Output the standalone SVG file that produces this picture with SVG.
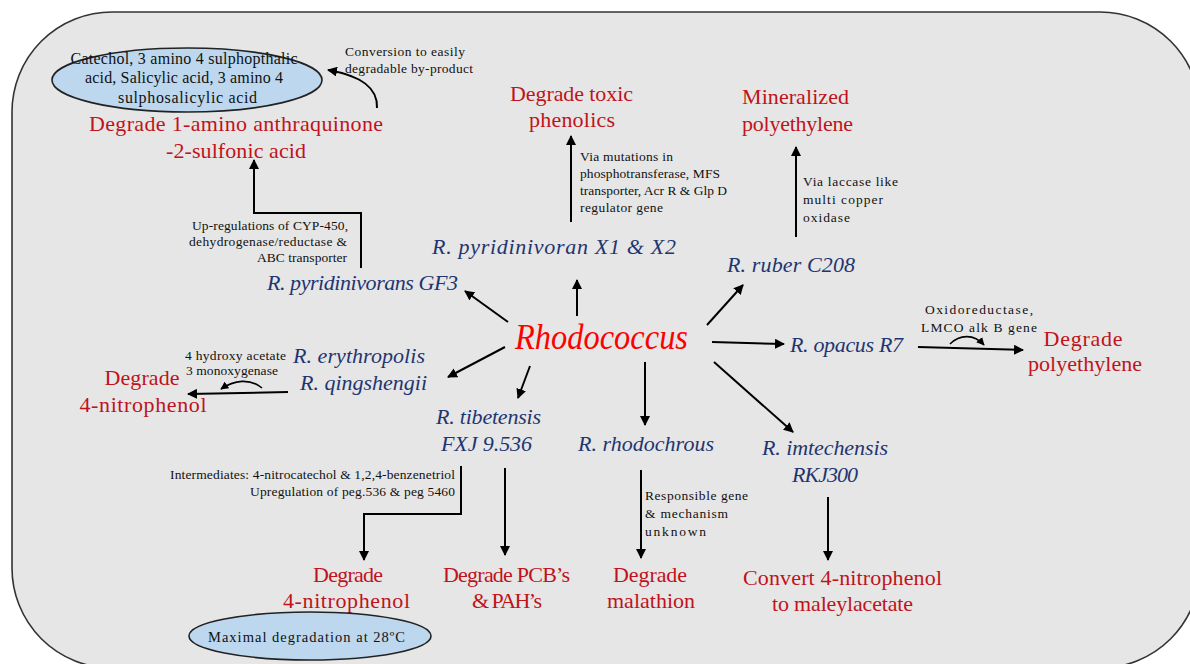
<svg xmlns="http://www.w3.org/2000/svg" width="1190" height="664" viewBox="0 0 1190 664">
<defs>
<marker id="ah" viewBox="0 0 10 10" refX="9" refY="5" markerWidth="5" markerHeight="5" orient="auto" markerUnits="strokeWidth">
<path d="M0,0 L10,5 L0,10 z" fill="#000"/>
</marker>
<style>
.bg{fill:#e6e6e6;stroke:#333;stroke-width:1.6}
.ell{fill:#bdd7ee;stroke:#222;stroke-width:1.6}
.red{font-family:"Liberation Serif",serif;font-size:22px;fill:#c0131b;text-anchor:middle}
.blue{font-family:"Liberation Serif",serif;font-size:22px;font-style:italic;fill:#1f3570}
.note{font-family:"Liberation Serif",serif;font-size:13.5px;fill:#111}
.etxt{font-family:"Liberation Serif",serif;font-size:16px;fill:#111;text-anchor:middle}
.main{font-family:"Liberation Serif",serif;font-size:35px;font-style:italic;fill:#ff0000}
.ln{fill:none;stroke:#000;stroke-width:2;marker-end:url(#ah)}
.ln2{fill:none;stroke:#000;stroke-width:1.6;marker-end:url(#ah)}
</style>
</defs>
<rect class="bg" x="12" y="12" width="1188" height="656" rx="100" ry="100"/>

<g id="connectors">
<path class="ln" d="M508,322 L465,291"/>
<path class="ln" d="M505,347 L448,377"/>
<path class="ln" d="M577,316 L577,280"/>
<path class="ln" d="M530,366 L518,398"/>
<path class="ln" d="M645,362 L645,425"/>
<path class="ln" d="M707,325 L743,285"/>
<path class="ln" d="M712,342 L784,344"/>
<path class="ln" d="M714,362 L793,432"/>
<path class="ln" d="M361,268 L361,213 L254,213 L254,160"/>
<path class="ln" d="M571,222 L571,136"/>
<path class="ln" d="M796,237 L796,147"/>
<path class="ln" d="M918,347 L1023,350"/>
<path class="ln" d="M288,392 L188,394"/>
<path class="ln" d="M461,466 L461,514 L364,514 L364,560"/>
<path class="ln" d="M505,468 L505,555"/>
<path class="ln" d="M641,470 L641,558"/>
<path class="ln" d="M828,497 L828,560"/>
<path class="ln" d="M377,108 C378,88 362,76 328,70"/>
<path class="ln2" d="M262,388 C250,378 234,380 221,389"/>
<path class="ln2" d="M950,344 C960,334 974,334 984,345"/>
</g>

<g id="rhodococcus"><text class="main" x="515" y="349" textLength="173" lengthAdjust="spacingAndGlyphs">Rhodococcus</text></g>

<g id="products-ellipse">
<ellipse class="ell" cx="187" cy="80" rx="135" ry="32"/>
<text class="etxt" x="184" y="64" textLength="227">Catechol, 3 amino 4 sulphopthalic</text>
<text class="etxt" x="184" y="83" textLength="198">acid, Salicylic acid, 3 amino 4</text>
<text class="etxt" x="187.5" y="103" textLength="139">sulphosalicylic acid</text>
</g>
<g id="conversion-note">
<text class="note" x="405" y="56" text-anchor="middle" textLength="120">Conversion to easily</text>
<text class="note" x="409" y="73" text-anchor="middle" textLength="128">degradable by-product</text>
</g>
<g id="degrade-aq">
<text class="red" x="236" y="131" textLength="294">Degrade 1-amino anthraquinone</text>
<text class="red" x="236" y="158" textLength="140">-2-sulfonic acid</text>
</g>
<g id="gf3-note">
<text class="note" x="348" y="230" text-anchor="end" textLength="156">Up-regulations of CYP-450,</text>
<text class="note" x="347" y="246" text-anchor="end" textLength="158">dehydrogenase/reductase &amp;</text>
<text class="note" x="347" y="262" text-anchor="end" textLength="90">ABC transporter</text>
</g>
<g id="gf3"><text class="blue" x="267" y="290" textLength="191">R. pyridinivorans GF3</text></g>

<g id="x1x2"><text class="blue" x="432" y="254" textLength="244">R. pyridinivoran X1 &amp; X2</text></g>
<g id="x1x2-note">
<text class="note" x="580" y="161" textLength="93">Via mutations in</text>
<text class="note" x="580" y="178" textLength="140">phosphotransferase, MFS</text>
<text class="note" x="580" y="195" textLength="147">transporter, Acr R &amp; Glp D</text>
<text class="note" x="580" y="212" textLength="83">regulator gene</text>
</g>
<g id="phenolics">
<text class="red" x="571.5" y="101" textLength="123">Degrade toxic</text>
<text class="red" x="572" y="127" textLength="86">phenolics</text>
</g>

<g id="mineralized">
<text class="red" x="795.5" y="104" textLength="107">Mineralized</text>
<text class="red" x="797.5" y="131" textLength="111">polyethylene</text>
</g>
<g id="ruber-note">
<text class="note" x="803" y="186" textLength="95">Via laccase like</text>
<text class="note" x="803" y="204" textLength="80">multi copper</text>
<text class="note" x="803" y="222" textLength="47">oxidase</text>
</g>
<g id="ruber"><text class="blue" x="727" y="272" textLength="128">R. ruber C208</text></g>

<g id="opacus"><text class="blue" x="790" y="352" textLength="113">R. opacus R7</text></g>
<g id="opacus-note">
<text class="note" x="979" y="314" text-anchor="middle" textLength="108">Oxidoreductase,</text>
<text class="note" x="979" y="332" text-anchor="middle" textLength="116">LMCO alk B gene</text>
</g>
<g id="deg-pe">
<text class="red" x="1083" y="346" textLength="79">Degrade</text>
<text class="red" x="1085" y="371" textLength="114">polyethylene</text>
</g>

<g id="erythropolis">
<text class="blue" x="293" y="363" textLength="132">R. erythropolis</text>
<text class="blue" x="300" y="390" textLength="127">R. qingshengii</text>
</g>
<g id="ery-note">
<text class="note" x="185" y="360" textLength="101">4 hydroxy acetate</text>
<text class="note" x="186" y="375" textLength="92">3 monoxygenase</text>
</g>
<g id="deg-np1">
<text class="red" x="142" y="385" textLength="75">Degrade</text>
<text class="red" x="143" y="412" textLength="127">4-nitrophenol</text>
</g>

<g id="tibetensis">
<text class="blue" x="436" y="424" textLength="105">R. tibetensis</text>
<text class="blue" x="441" y="451" textLength="91">FXJ 9.536</text>
</g>
<g id="tib-note">
<text class="note" x="455" y="479" text-anchor="end" textLength="285">Intermediates: 4-nitrocatechol &amp; 1,2,4-benzenetriol</text>
<text class="note" x="455" y="496" text-anchor="end" textLength="205">Upregulation of peg.536 &amp; peg 5460</text>
</g>
<g id="deg-np2">
<text class="red" x="348" y="582" textLength="70">Degrade</text>
<text class="red" x="346.5" y="608" textLength="127">4-nitrophenol</text>
</g>
<g id="maximal">
<ellipse class="ell" cx="310" cy="636" rx="121" ry="24"/>
<text class="etxt" x="306.5" y="642" style="font-size:14.5px" textLength="197">Maximal degradation at 28ºC</text>
</g>
<g id="deg-pcb">
<text class="red" x="506.5" y="582" textLength="127">Degrade PCB’s</text>
<text class="red" x="507" y="608" textLength="70">&amp; PAH’s</text>
</g>

<g id="rhodochrous"><text class="blue" x="578" y="451" textLength="136">R. rhodochrous</text></g>
<g id="rhodo-note">
<text class="note" x="645" y="500" textLength="103">Responsible gene</text>
<text class="note" x="645" y="518" textLength="83">&amp; mechanism</text>
<text class="note" x="645" y="536" textLength="61">unknown</text>
</g>
<g id="malathion">
<text class="red" x="650" y="582" textLength="74">Degrade</text>
<text class="red" x="651" y="608" textLength="88">malathion</text>
</g>

<g id="imtechensis">
<text class="blue" x="825" y="455" text-anchor="middle" textLength="126">R. imtechensis</text>
<text class="blue" x="825" y="482" text-anchor="middle" textLength="66">RKJ300</text>
</g>
<g id="convert">
<text class="red" x="842.5" y="585" textLength="199">Convert 4-nitrophenol</text>
<text class="red" x="842.5" y="611" textLength="141">to maleylacetate</text>
</g>
</svg>
